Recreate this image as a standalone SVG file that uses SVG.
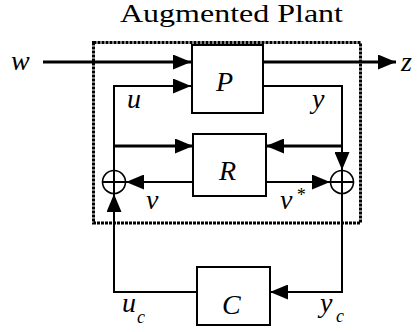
<svg xmlns="http://www.w3.org/2000/svg" width="417" height="332" viewBox="0 0 417 332">
<defs>
<marker id="arr" markerUnits="userSpaceOnUse" markerWidth="18" markerHeight="15" refX="18" refY="7.5" orient="auto">
<path d="M0,0 L18,7.5 L0,15 z" fill="#000"/>
</marker>
</defs>
<style>
.blk{fill:#fff;stroke:#000;stroke-width:2}
.ln{fill:none;stroke:#000;stroke-width:2}
.thk{stroke-width:3}
text{font-family:'Liberation Serif','DejaVu Serif',serif;fill:#000}
.var{font-style:italic;font-size:28px}
.sub{font-style:italic;font-size:18px}
.title{font-size:26px}
.sum{fill:#fff;stroke:#000;stroke-width:1.6}
</style>
<rect id="augmented-plant" x="93.5" y="42.5" width="267" height="180.5" fill="none" stroke="#000" stroke-width="3" stroke-dasharray="3 1"/>
<text class="title" x="120" y="22" textLength="223" lengthAdjust="spacingAndGlyphs">Augmented Plant</text>
<g id="connectors">
<line class="ln thk" x1="43" y1="62" x2="191" y2="62" marker-end="url(#arr)"/>
<line class="ln thk" x1="264" y1="62" x2="396" y2="62" marker-end="url(#arr)"/>
<polyline class="ln" points="114,171 114,86 191,86" marker-end="url(#arr)"/>
<polyline class="ln" points="264,86 342,86 342,170" marker-end="url(#arr)"/>
<line class="ln thk" x1="114" y1="146" x2="193" y2="146" marker-end="url(#arr)"/>
<line class="ln thk" x1="342" y1="146" x2="266" y2="146" marker-end="url(#arr)"/>
<line class="ln" x1="193" y1="182" x2="126" y2="182" marker-end="url(#arr)"/>
<line class="ln" x1="266" y1="182" x2="330" y2="182" marker-end="url(#arr)"/>
<polyline class="ln" points="197,292 114,292 114,194" marker-end="url(#arr)"/>
<polyline class="ln" points="342,194 342,292 270,292" marker-end="url(#arr)"/>
</g>
<g id="P"><rect class="blk" x="192" y="45" width="71" height="68"/><text class="var" x="216" y="91">P</text></g>
<g id="R"><rect class="blk" x="193" y="134" width="73" height="62"/><text class="var" x="219" y="180">R</text></g>
<g id="C"><rect class="blk" x="197" y="267" width="73" height="58"/><text class="var" x="222" y="314">C</text></g>
<g id="sum-left"><circle class="sum" cx="114" cy="182" r="11.5"/><path class="ln" stroke-width="1.4" d="M102.5,182 H125.5 M114,170.5 V193.5"/></g>
<g id="sum-right"><circle class="sum" cx="342" cy="182" r="11.5"/><path class="ln" stroke-width="1.4" d="M330.5,182 H353.5 M342,170.5 V193.5"/></g>
<g id="labels">
<text class="var" x="11" y="70">w</text>
<text class="var" x="401" y="71">z</text>
<text class="var" x="127" y="108">u</text>
<text class="var" x="312" y="108">y</text>
<text class="var" x="146" y="209">v</text>
<text class="var" x="280" y="209">v</text>
<text class="sub" x="296" y="201">*</text>
<text class="var" x="122" y="312">u</text>
<text class="sub" x="137" y="323">c</text>
<text class="var" x="320" y="312">y</text>
<text class="sub" x="336" y="322">c</text>
</g>
</svg>
